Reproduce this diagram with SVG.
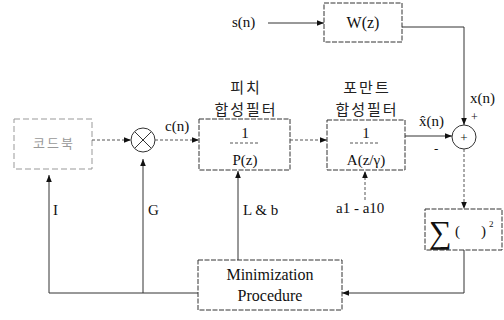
<svg xmlns="http://www.w3.org/2000/svg" width="504" height="320" viewBox="0 0 504 320">
<defs>
<marker id="ah" viewBox="0 0 10 10" refX="10" refY="5" markerWidth="9" markerHeight="7" markerUnits="userSpaceOnUse" orient="auto">
<path d="M0,1 L10,5 L0,9 z" fill="#111"/>
</marker>
</defs>
<style>
.box{fill:none;stroke:#333;stroke-width:1;stroke-dasharray:5 1.5}
.faint{fill:none;stroke:#999;stroke-width:1;stroke-dasharray:6 3}
.ln{fill:none;stroke:#333;stroke-width:1}
.dl{fill:none;stroke:#555;stroke-width:1;stroke-dasharray:3 2}
.t{font-family:"Liberation Serif",serif;font-size:15px;fill:#111}
.k{font-family:"Noto Sans CJK KR",sans-serif;font-size:15px;fill:#222;letter-spacing:2px}
</style>
<rect width="504" height="320" fill="#fff"/>
<g id="codebook">
<rect class="faint" x="14" y="119" width="78" height="50"/>
<text class="k" x="54" y="148" text-anchor="middle" style="fill:#999;font-size:13px">코드북</text>
</g>
<g id="multiplier">
<circle class="ln" cx="143" cy="140" r="12"/>
<line class="ln" x1="135" y1="132" x2="151" y2="148"/>
<line class="ln" x1="151" y1="132" x2="135" y2="148"/>
</g>
<g id="pitch">
<text class="k" x="246" y="93" text-anchor="middle">피치</text>
<text class="k" x="246" y="115" text-anchor="middle">합성필터</text>
<rect class="box" x="199" y="119" width="91" height="51"/>
<line class="dl" x1="230" y1="143" x2="260" y2="143"/>
<text class="t" x="245" y="138" text-anchor="middle">1</text>
<text class="t" x="245" y="165" text-anchor="middle">P(z)</text>
</g>
<g id="formant">
<text class="k" x="367" y="93" text-anchor="middle">포만트</text>
<text class="k" x="367" y="115" text-anchor="middle">합성필터</text>
<rect class="box" x="327" y="120" width="78" height="50"/>
<line class="dl" x1="350" y1="143" x2="380" y2="143"/>
<text class="t" x="366" y="138" text-anchor="middle">1</text>
<text class="t" x="366" y="165" text-anchor="middle">A(z/γ)</text>
</g>
<g id="wz">
<rect class="box" x="324" y="3" width="78" height="39"/>
<text class="t" x="363" y="28" text-anchor="middle" style="font-size:16px">W(z)</text>
</g>
<g id="sum">
<circle class="ln" cx="464" cy="137" r="12"/>
<text class="t" x="464" y="142" text-anchor="middle" style="font-size:13px">+</text>
</g>
<g id="sigma">
<rect class="box" x="425" y="209" width="77" height="41"/>
<text class="t" x="429" y="243" style="font-size:32px">∑</text>
<text class="t" x="455" y="236" style="font-size:15px">(</text>
<text class="t" x="481" y="236" style="font-size:15px">)</text>
<text class="t" x="489" y="227" style="font-size:9px">2</text>
</g>
<g id="minimization">
<rect class="box" x="198" y="260" width="144" height="50"/>
<text class="t" x="270" y="280" text-anchor="middle" style="font-size:16px">Minimization</text>
<text class="t" x="270" y="301" text-anchor="middle" style="font-size:16px">Procedure</text>
</g>
<g id="labels">
<text class="t" x="232" y="27">s(n)</text>
<text class="t" x="165" y="131">c(n)</text>
<text class="t" x="470" y="103">x(n)</text>
<text class="t" x="471" y="121" style="font-size:12px">+</text>
<text class="t" x="419" y="126">x̂(n)</text>
<text class="t" x="434" y="153" style="font-size:13px">-</text>
<text class="t" x="53" y="215">I</text>
<text class="t" x="148" y="215">G</text>
<text class="t" x="243" y="215">L &amp; b</text>
<text class="t" x="336" y="213">a1 - a10</text>
</g>
<g id="connectors">
<line class="ln" x1="268" y1="23" x2="324" y2="23" marker-end="url(#ah)"/>
<polyline class="ln" points="402,27 464,27 464,125" marker-end="url(#ah)"/>
<line class="dl" x1="92" y1="140" x2="131" y2="140" marker-end="url(#ah)"/>
<line class="dl" x1="155" y1="140" x2="199" y2="140" marker-end="url(#ah)"/>
<line class="dl" x1="290" y1="140" x2="327" y2="140" marker-end="url(#ah)"/>
<line class="ln" x1="405" y1="136" x2="452" y2="136" marker-end="url(#ah)"/>
<line class="dl" x1="464" y1="149" x2="464" y2="209" marker-end="url(#ah)"/>
<polyline class="ln" points="464,250 464,293 342,293" marker-end="url(#ah)"/>
<polyline class="ln" points="198,293 49,293 49,175" marker-end="url(#ah)"/>
<line class="ln" x1="143" y1="293" x2="143" y2="159" marker-end="url(#ah)"/>
<line class="ln" x1="238" y1="260" x2="238" y2="171" marker-end="url(#ah)"/>
<line class="dl" x1="365" y1="200" x2="365" y2="171" marker-end="url(#ah)"/>
</g>
</svg>
